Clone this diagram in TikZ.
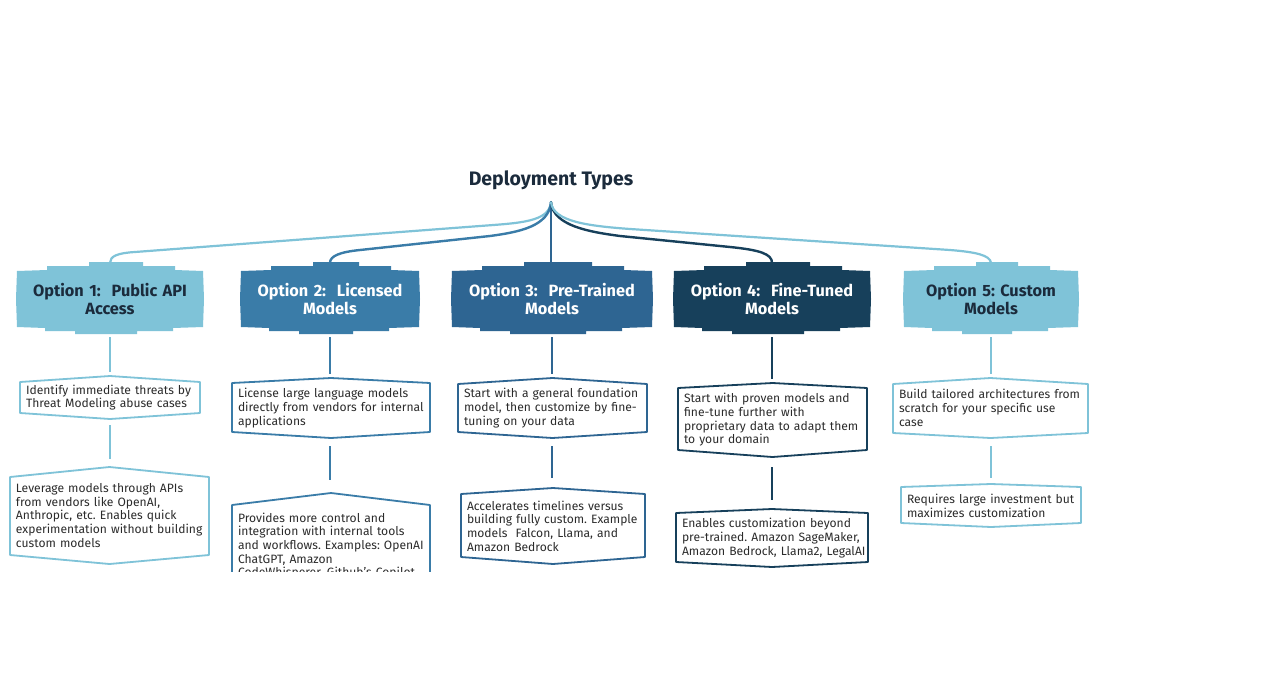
\documentclass[tikz,border=0pt]{standalone}
\usepackage{fontspec}
\setmainfont{Fira Sans}
\usetikzlibrary{calc}
\definecolor{cLight}{HTML}{7FC3D8}
\definecolor{cMid}{HTML}{3A7CA8}
\definecolor{cDark}{HTML}{2E6592}
\definecolor{cNavy}{HTML}{17405B}
\definecolor{txt}{HTML}{2B2B2B}
\definecolor{ttl}{HTML}{1B2B3C}
\frenchspacing
\tikzset{
  hdrtext/.style={font=\bfseries\fontsize{16.3}{18}\selectfont, align=center, minimum height=72, inner sep=0},
  boxtext/.style={font=\fontsize{12.1}{13.7}\selectfont, text=txt, align=left, inner sep=0},
  boxline/.style={line width=1.8, line join=round},
  vconn/.style={line width=#1, shorten <=2, shorten >=4},
  tconn/.style={line width=#1, line cap=round},
}
\newcommand\hdrshape[3]{%
\fill[#3] (#1-#2,271) -- (#1-#2+30,270) -- (#1-#2+30,266) -- (#1-#2+72,266) -- (#1-#2+72,262) -- (#1+#2-60,262) -- (#1+#2-60,266) -- (#1+#2-28,266) -- (#1+#2-28,270) -- (#1+#2,271) -- (#1+#2+1,299) -- (#1+#2,327) -- (#1+#2-30,328) -- (#1+#2-30,331) -- (#1+#2-66,331) -- (#1+#2-66,334) -- (#1-#2+58,334) -- (#1-#2+58,331) -- (#1-#2+28,331) -- (#1-#2+28,328) -- (#1-#2,327) -- (#1-#2-1,299) -- cycle;}
\newcommand\tboxshape[7]{%
\draw[boxline,#7] (#1,#3) -- ({(#1+#2)/2},#4) -- (#2,#3) -- (#2,#5) -- ({(#1+#2)/2},#6) -- (#1,#5) -- cycle;}
\begin{document}
\begin{tikzpicture}[x=1pt,y=-1pt]
\useasboundingbox[fill=white] (0,0) rectangle (1269,672);

% title
\node[font=\bfseries\fontsize{19.5}{21}\selectfont, text=ttl, minimum height=44, inner sep=0] (title) at (551,180) {Deployment Types};

% headers
\hdrshape{110}{93}{cLight}
\node[hdrtext, text=ttl, text width=184] (h1) at (110,299) {Option 1:\ \ Public API\\Access};
\hdrshape{330}{89}{cMid}
\node[hdrtext, text=white, text width=176] (h2) at (330,299) {Option 2:\ \ Licensed\\Models};
\hdrshape{552}{100}{cDark}
\node[hdrtext, text=white, text width=198] (h3) at (552,299) {Option 3:\ \ Pre-Trained\\Models};
\hdrshape{772}{98}{cNavy}
\node[hdrtext, text=white, text width=194] (h4) at (772,299) {Option 4:\ \ Fine-Tuned\\Models};
\hdrshape{991}{87}{cLight}
\node[hdrtext, text=ttl, text width=172] (h5) at (991,299) {Option 5: Custom\\Models};

% top connectors
\draw[tconn=2.2, cLight] (title.south) .. controls (549,222) and (520,223) .. (480,226) -- (135,252) .. controls (118,253) and (110,256) .. (h1.north);
\draw[tconn=2.4, cMid] (title.south) .. controls (549,226) and (520,232) .. (490,236) -- (360,250) .. controls (340,252) and (330,256) .. (h2.north);
\draw[tconn=2.6, cDark] (title.south) -- (title.south |- h3.north);
\draw[tconn=2.4, cNavy] (title.south) .. controls (553,226) and (590,232) .. (620,236) -- (730,247) .. controls (760,250) and (772,254) .. (h4.north);
\draw[tconn=2.2, cLight] (title.south) .. controls (553,222) and (590,226) .. (630,229) -- (950,250) .. controls (975,252) and (990,255) .. (h5.north);

% column 1
\tboxshape{20}{200}{382}{376}{413}{419}{cLight}
\node[boxtext, text width=176, minimum height=43] (a1) at (114,397.5) {Identify immediate threats by\\Threat Modeling abuse cases};
\tboxshape{10}{209}{477}{467}{555}{564}{cLight}
\node[boxtext, text width=195, minimum height=97] (b1) at (113.5,515.5) {Leverage models through APIs\\from vendors like OpenAI,\\Anthropic, etc. Enables quick\\experimentation without building\\custom models};
\draw[vconn=2.4, cLight] (h1.south) -- (h1.south |- a1.north);
\draw[vconn=2.4, cLight, shorten <=6, shorten >=8] (h1.south |- a1.south) -- (h1.south |- b1.north);

% column 2
\tboxshape{232}{430}{383}{378}{432}{438}{cMid}
\node[boxtext, text width=194, minimum height=60] (a2) at (335,408) {License large language models\\directly from vendors for internal\\applications};
\begin{scope}
\clip (0,0) rectangle (1269,571);
\tboxshape{232}{430}{505}{493}{593}{599}{cMid}
\node[boxtext, text width=194, minimum height=106] (b2) at (335,546) {Provides more control and\\integration with internal tools\\and workflows. Examples: OpenAI\\ChatGPT, Amazon\\CodeWhisperer, Github's Copilot};
\end{scope}
\draw[vconn=2.8, cMid] (h2.south) -- (h2.south |- a2.north);
\draw[vconn=2.8, cMid, shorten <=8, shorten >=13] (h2.south |- a2.south) -- (h2.south |- b2.north);

% column 3
\tboxshape{458}{647}{384}{378}{432}{438}{cDark}
\node[boxtext, text width=185, minimum height=60] (a3) at (556.5,408) {Start with a general foundation\\model, then customize by fine-\\tuning on your data};
\tboxshape{461}{645}{494}{488}{557}{564}{cDark}
\node[boxtext, text width=180, minimum height=76] (b3) at (557,526) {Accelerates timelines versus\\building fully custom. Example\\models\ \ Falcon, Llama, and\\Amazon Bedrock};
\draw[vconn=2.8, cDark] (h3.south) -- (h3.south |- a3.north);
\draw[vconn=2.8, cDark, shorten <=8, shorten >=10] (h3.south |- a3.south) -- (h3.south |- b3.north);

% column 4
\tboxshape{678}{867}{388}{383}{450}{457}{cNavy}
\node[boxtext, text width=185, minimum height=74] (a4) at (776.5,420) {Start with proven models and\\fine-tune further with\\proprietary data to adapt them\\to your domain};
\tboxshape{676}{868}{513}{509}{562}{567}{cNavy}
\node[boxtext, text width=188, minimum height=58] (b4) at (776,538) {Enables customization beyond\\pre-trained. Amazon SageMaker,\\Amazon Bedrock, Llama2, LegalAI};
\draw[vconn=2.8, cNavy] (h4.south) -- (h4.south |- a4.north);
\draw[vconn=2.8, cNavy, shorten <=10, shorten >=9] (h4.south |- a4.south) -- (h4.south |- b4.north);

% column 5
\tboxshape{893}{1088}{384}{378}{433}{438}{cLight}
\node[boxtext, text width=191, minimum height=60] (a5) at (994.5,408) {Build tailored architectures from\\scratch for your specific use\\case};
\tboxshape{901}{1081}{487}{484}{523}{527}{cLight}
\node[boxtext, text width=176, minimum height=43] (b5) at (995,505.5) {Requires large investment but\\maximizes customization};
\draw[vconn=2.4, cLight] (h5.south) -- (h5.south |- a5.north);
\draw[vconn=2.4, cLight, shorten <=8, shorten >=6] (h5.south |- a5.south) -- (h5.south |- b5.north);
\end{tikzpicture}
\end{document}
